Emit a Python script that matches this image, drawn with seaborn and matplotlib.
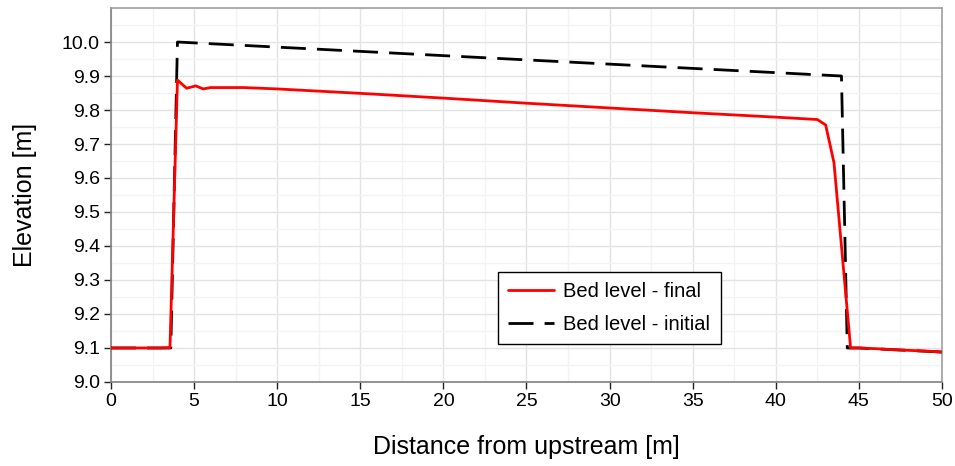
import numpy as np
import pandas as pd
import seaborn as sns
import matplotlib
matplotlib.use('Agg')
import matplotlib.pyplot as plt
from matplotlib.ticker import MultipleLocator, FormatStrFormatter

# final bed level
x_final = [0, 1, 2, 3, 3.55, 4.0, 4.55, 5.1, 5.55, 6.0, 7.0, 8.0, 10, 15, 20, 25,
           30, 35, 40, 42.5, 43.0, 43.5, 44.5, 45, 46, 47, 48, 49, 50]
z_final = [9.1, 9.1, 9.1, 9.1, 9.101, 9.888, 9.864, 9.871, 9.862, 9.866, 9.866, 9.866,
           9.862, 9.849, 9.835, 9.82, 9.806, 9.792, 9.779, 9.772, 9.756, 9.645,
           9.1, 9.1, 9.098, 9.095, 9.093, 9.091, 9.088]

# initial bed level
x_init = [0, 3.6, 4.0, 43.95, 44.3, 45, 50]
z_init = [9.1, 9.1, 10.0, 9.9, 9.1, 9.1, 9.088]

df_final = pd.DataFrame({'x': x_final, 'z': z_final})
df_init = pd.DataFrame({'x': x_init, 'z': z_init})

sns.set_style('whitegrid')
plt.rcParams['font.family'] = ['Liberation Sans', 'DejaVu Sans']
plt.rcParams['text.color'] = 'black'
plt.rcParams['axes.labelcolor'] = 'black'
plt.rcParams['xtick.color'] = 'black'
plt.rcParams['ytick.color'] = 'black'

fig = plt.figure(figsize=(9.55, 4.66), dpi=100)
ax = fig.add_axes([0.1162, 0.1803, 0.8702, 0.8025])

sns.lineplot(data=df_init, x='x', y='z', ax=ax, color='black', lw=2,
             sort=False, label='Bed level - initial', zorder=3)
ax.lines[-1].set_dashes([9, 4])
sns.lineplot(data=df_final, x='x', y='z', ax=ax, color='#ff0000', lw=2,
             sort=False, label='Bed level - final', zorder=4)

ax.set_xlim(0, 50)
ax.xaxis.set_major_locator(MultipleLocator(5))
ax.xaxis.set_minor_locator(MultipleLocator(2.5))
ax.set_yticks(np.arange(9.0, 10.01, 0.1))
ax.yaxis.set_minor_locator(MultipleLocator(0.05))
ax.set_ylim(9.0, 10.1)
ax.yaxis.set_major_formatter(FormatStrFormatter('%.1f'))

ax.grid(which='major', color='#e3e3e3', lw=1)
ax.grid(which='minor', color='#f3f3f3', lw=1)
ax.set_axisbelow(True)

for s in ['top', 'right']:
    ax.spines[s].set_color('#a0a0a0')
    ax.spines[s].set_linewidth(1.2)
for s in ['left', 'bottom']:
    ax.spines[s].set_color('#808080')
    ax.spines[s].set_linewidth(1.2)

ax.tick_params(which='major', direction='out', length=5, width=1, color='#222222',
               labelsize=14, left=True, bottom=True, pad=3)
ax.tick_params(which='minor', length=0)

ax.set_xlabel('Distance from upstream [m]', fontsize=18, labelpad=18)
ax.set_ylabel('Elevation [m]', fontsize=18, labelpad=18)

handles, labels = ax.get_legend_handles_labels()
order = [labels.index('Bed level - final'), labels.index('Bed level - initial')]
leg = ax.legend([handles[i] for i in order], [labels[i] for i in order],
                loc='upper left', bbox_to_anchor=(0.4657, 0.294), borderaxespad=0,
                fontsize=14.5, frameon=True, fancybox=False, framealpha=1,
                borderpad=0.5, handlelength=2.3, handletextpad=0.45,
                labelspacing=0.7)
leg.get_frame().set_edgecolor('black')
leg.get_frame().set_linewidth(1)

fig.savefig('out.png', dpi=100)
